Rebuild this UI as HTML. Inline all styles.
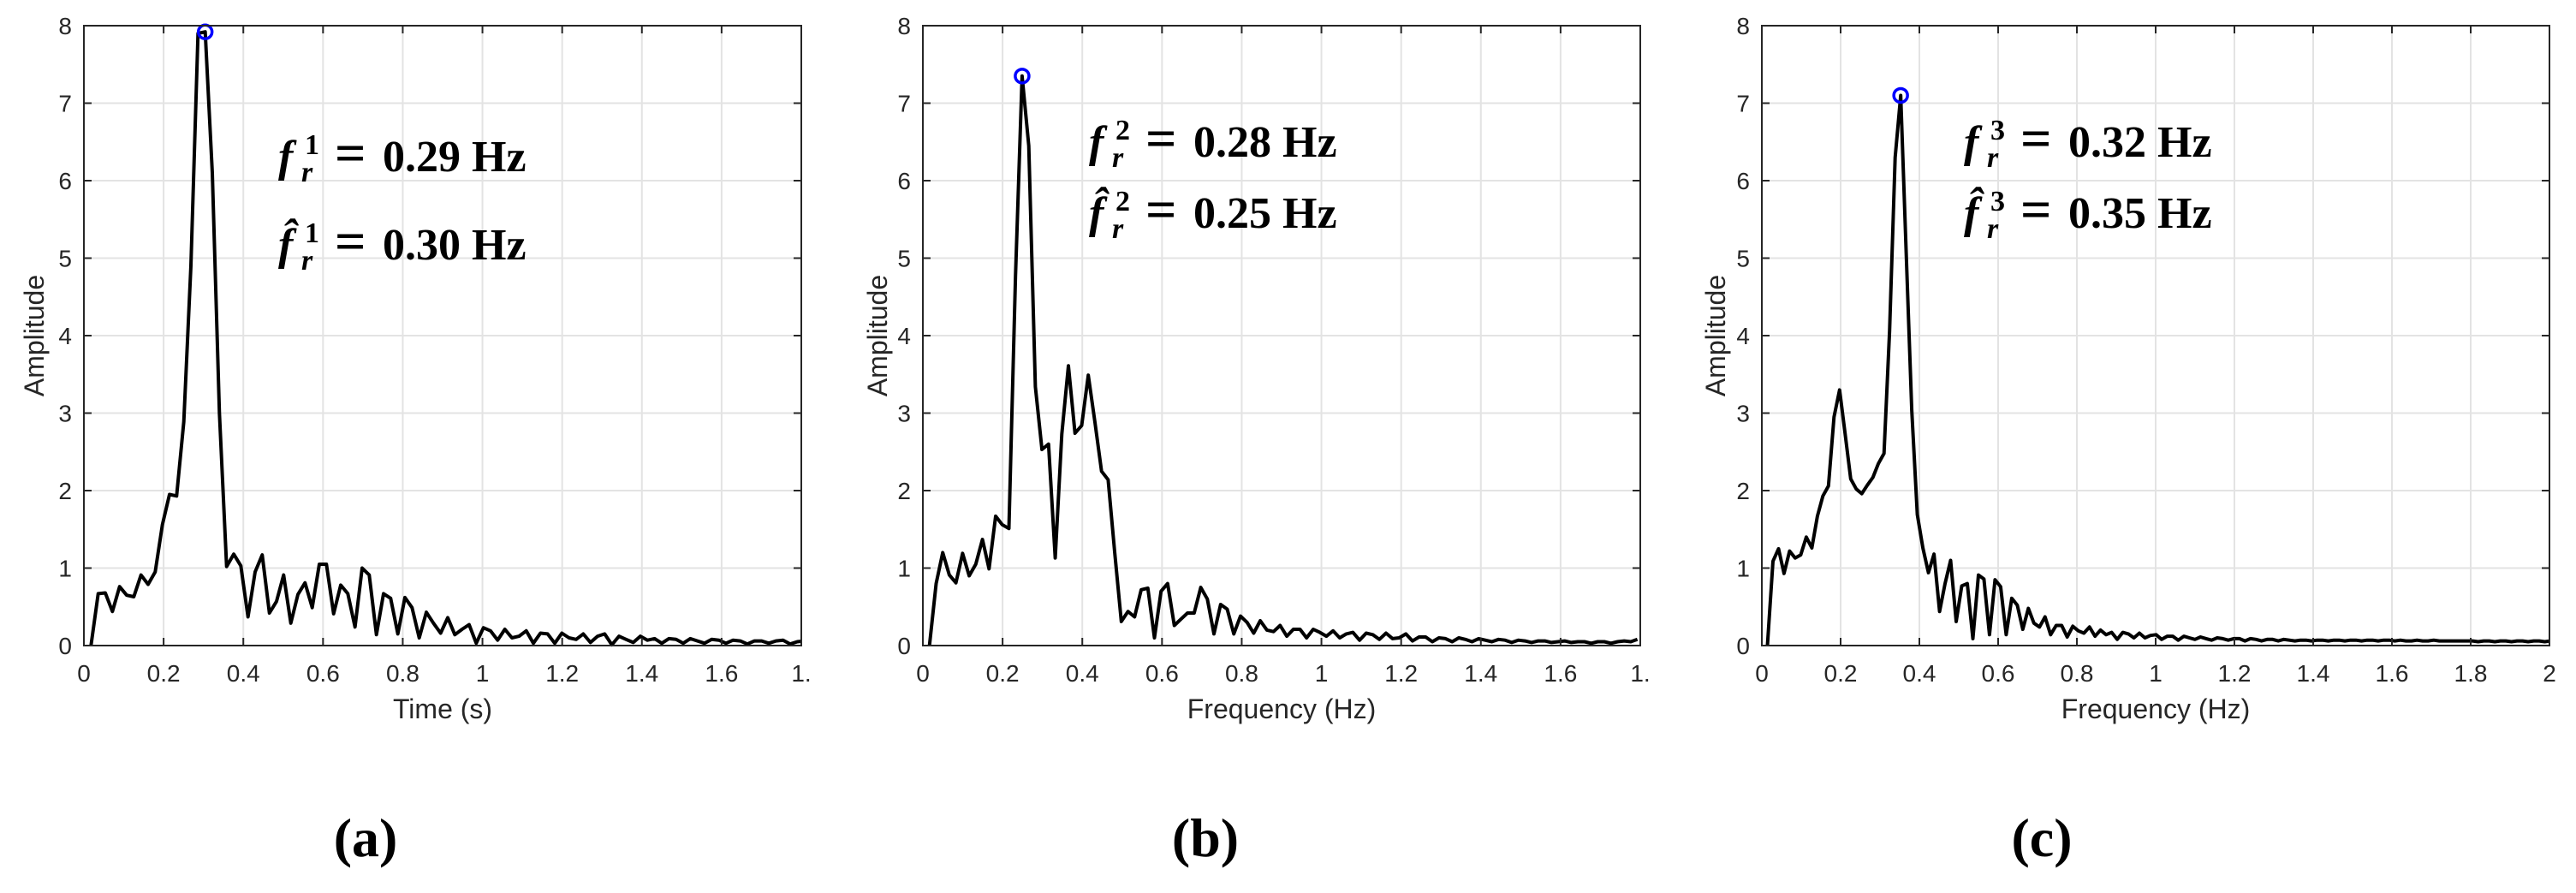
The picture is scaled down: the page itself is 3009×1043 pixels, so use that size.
<!DOCTYPE html>
<html><head><meta charset="utf-8">
<style>
html,body{margin:0;padding:0;background:#fff;}
svg{display:block;}
.tick{font-family:"Liberation Sans",sans-serif;font-size:28px;fill:#262626;}
.alab{font-family:"Liberation Sans",sans-serif;font-size:32px;fill:#262626;}
.ann{font-family:"Liberation Serif",serif;font-weight:bold;font-size:52px;fill:#000;}
.cap{font-family:"Liberation Serif",serif;font-weight:bold;font-size:64px;fill:#000;}
</style></head>
<body>
<svg id="fig" width="3009" height="1043" viewBox="0 0 3009 1043" xmlns="http://www.w3.org/2000/svg"></svg>
<script>
// ---- data ----
const ampA = [0,.67,.68,.44,.76,.65,.63,.91,.79,.95,1.56,1.95,1.93,2.89,4.9,7.9,7.92,6.1,3.0,1.02,
1.18,1.03,.37,.95,1.17,.42,.57,.91,.29,.66,.81,.49,1.05,1.05,.41,.78,.67,.24,1.0,.91,
.14,.67,.61,.15,.62,.49,.1,.43,.29,.16,.36,.14,.21,.27,.03,.23,.19,.07,.21,.1,
.12,.19,.03,.16,.15,.03,.16,.1,.08,.15,.04,.12,.15,.01,.12,.08,.04,.12,.07,.09,
.03,.09,.08,.03,.09,.06,.03,.08,.07,.03,.07,.06,.02,.06,.06,.03,.06,.07,.02,.05,.06];
const ampB = [0,.8,1.2,.91,.81,1.19,.9,1.05,1.37,.99,1.67,1.56,1.51,4.77,7.35,6.45,3.34,2.53,2.6,1.13,
2.73,3.61,2.74,2.84,3.49,2.89,2.25,2.14,1.2,.31,.44,.37,.72,.74,.1,.7,.8,.26,.34,.42,
.42,.75,.6,.15,.53,.47,.15,.38,.3,.16,.32,.2,.18,.26,
.12,.21,.21,.1,.21,.17,.12,.19,.1,.15,.17,.07,.16,.14,.08,.16,.09,.1,.15,.06,
.11,.11,.05,.1,.09,.05,.1,.08,.05,.09,.07,.05,.08,.07,.04,.07,.06,.04,.06,.06,.04,.05,.06,.04,.05,.05,.03,.05,.05,.03,.05,.06,.05,.08];
const ampC = [0,1.09,1.25,.93,1.22,1.13,1.17,1.4,1.26,1.67,1.93,2.06,2.95,3.3,2.73,2.15,2.02,1.96,2.07,2.17,
2.35,2.48,4.06,6.3,7.1,5.07,3.04,1.69,1.26,.94,1.18,.44,.8,1.1,.31,.77,.8,.09,.91,.86,
.14,.85,.76,.14,.61,.52,.21,.48,.29,.24,.37,.14,.26,.26,.11,.25,.19,.16,.24,
.12,.2,.14,.17,.08,.17,.15,.1,.16,.1,.13,.14,
.08,.12,.12,.07,.12,.1,.08,.11,.09,.07,.1,.09,.07,.09,.09,.06,.09,.08,.06,.08,.08,
.06,.08,.07,.06,.07,.07,.06,.07,.07,.06,.07,.07,.06,.07,.07,.06,.07,.07,.06,.07,.07,.06,.07,.06,.06,
.07,.06,.06,.07,.06,.06,.06,.06,.06,.06,.06,.05,.06,.06,.05,.06,.06,.05,.06,.06,.05,.06,.06,.05,.06];
const freqStep = [0.0179, 0.0166, 0.0141];
const xTicksAB = [0,0.2,0.4,0.6,0.8,1,1.2,1.4,1.6,1.8];
const xTickLabelsAB = ["0","0.2","0.4","0.6","0.8","1","1.2","1.4","1.6","1."];
const xTicksC = [0,0.2,0.4,0.6,0.8,1,1.2,1.4,1.6,1.8,2];
const xTickLabelsC = ["0","0.2","0.4","0.6","0.8","1","1.2","1.4","1.6","1.8","2"];
const yTicks = [0,1,2,3,4,5,6,7,8];
const xTitles = ["Time (s)","Frequency (Hz)","Frequency (Hz)"];
const annSup = ["1","2","3"];
const annF = ["0.29","0.28","0.32"];
const annFhat = ["0.30","0.25","0.35"];
const captions = ["(a)","(b)","(c)"];

// ---- layout ----
const NS="http://www.w3.org/2000/svg";
const svg=document.getElementById('fig');
function mk(tag,attrs,parent){const e=document.createElementNS(NS,tag);for(const k in attrs)e.setAttribute(k,attrs[k]);(parent||svg).appendChild(e);return e;}
const panels=[
 {L:98,R:936,T:30,B:754,xmax:1.8,data:ampA,ticks:xTicksAB,labels:xTickLabelsAB,ylabX:40,annX:325,b1:200,b2:303,capX:427},
 {L:1078,R:1916,T:30,B:754,xmax:1.8,data:ampB,ticks:xTicksAB,labels:xTickLabelsAB,ylabX:1025,annX:1272,b1:183,b2:266,capX:1408},
 {L:2058,R:2978,T:30,B:754,xmax:2,data:ampC,ticks:xTicksC,labels:xTickLabelsC,ylabX:2004,annX:2294,b1:183,b2:266,capX:2385}
];
panels.forEach((p,k)=>{
 const g=mk('g',{});
 
 
 const xs=v=>p.L+(v/p.xmax)*(p.R-p.L);
 const ys=v=>p.B-(v/8)*(p.B-p.T);
 p.ticks.forEach(t=>{const l=mk('line',{x1:xs(t),x2:xs(t),y1:p.T,y2:p.B,stroke:'#e3e3e3','stroke-width':2},g);
  });
 yTicks.forEach(t=>{const l=mk('line',{x1:p.L,x2:p.R,y1:ys(t),y2:ys(t),stroke:'#e3e3e3','stroke-width':2},g);
  });
 const cp=mk('clipPath',{id:'clip'+k},g);mk('rect',{x:p.L,y:p.T-20,width:p.R-p.L,height:p.B-p.T+22},cp);
 let d='';let maxI=0;
 p.data.forEach((v,i)=>{d+=(i?'L':'M')+xs((i+1)*freqStep[k]).toFixed(1)+','+ys(v).toFixed(1);if(v>p.data[maxI])maxI=i;});
 const path=mk('path',{d:d,fill:'none',stroke:'#000','stroke-width':4,'stroke-linejoin':'round','clip-path':'url(#clip'+k+')'},g);
 
 const c=mk('circle',{cx:xs((maxI+1)*freqStep[k]),cy:ys(p.data[maxI]),r:8,fill:'none',stroke:'#0000ff','stroke-width':3.5},g);
 
 const box=mk('rect',{x:p.L,y:p.T,width:p.R-p.L,height:p.B-p.T,fill:'none',stroke:'#262626','stroke-width':2},g);
 
 p.ticks.forEach((t,i)=>{
  mk('line',{x1:xs(t),x2:xs(t),y1:p.B,y2:p.B-9,stroke:'#262626','stroke-width':2},g);
  mk('line',{x1:xs(t),x2:xs(t),y1:p.T,y2:p.T+9,stroke:'#262626','stroke-width':2},g);
  const tx=mk('text',{x:xs(t),y:796,'text-anchor':'middle',class:'tick'},g);tx.textContent=p.labels[i];
  
 });
 yTicks.forEach(t=>{
  mk('line',{x1:p.L,x2:p.L+9,y1:ys(t),y2:ys(t),stroke:'#262626','stroke-width':2},g);
  mk('line',{x1:p.R,x2:p.R-9,y1:ys(t),y2:ys(t),stroke:'#262626','stroke-width':2},g);
  const tx=mk('text',{x:p.L-14,y:ys(t)+10,'text-anchor':'end',class:'tick'},g);tx.textContent=String(t);
  
 });
 const xt=mk('text',{x:(p.L+p.R)/2,y:839,'text-anchor':'middle',class:'alab'},g);xt.textContent=xTitles[k];
 
 const yt=mk('text',{x:p.ylabX,y:392,'text-anchor':'middle',class:'alab',transform:'rotate(-90 '+(p.ylabX)+' 392) translate(0 11)'},g);yt.textContent='Amplitude';
 
 [[p.b1,annF[k],false],[p.b2,annFhat[k],true]].forEach(([by,val,hat])=>{
  const t=mk('text',{x:p.annX,y:by,class:'ann'},g);
  
  
  const f=mk('tspan',{'font-style':'italic'},t);f.textContent=hat?'f\u0302':'f';
  const sp=mk('tspan',{'font-size':'34','x':p.annX+31,'y':by-20},t);sp.textContent=annSup[k];
  const sb=mk('tspan',{'font-size':'34','font-style':'italic','x':p.annX+27,'y':by+12},t);sb.textContent='r';
  const eq=mk('tspan',{'x':p.annX+66,'y':by,'font-size':'64'},t);eq.textContent='=';
  const rest=mk('tspan',{'x':p.annX+122,'y':by},t);rest.textContent=val+' Hz';
 });
 const cap=mk('text',{x:p.capX,y:1000,'text-anchor':'middle',class:'cap'},g);cap.textContent=captions[k];
 
});
</script>
</body></html>
